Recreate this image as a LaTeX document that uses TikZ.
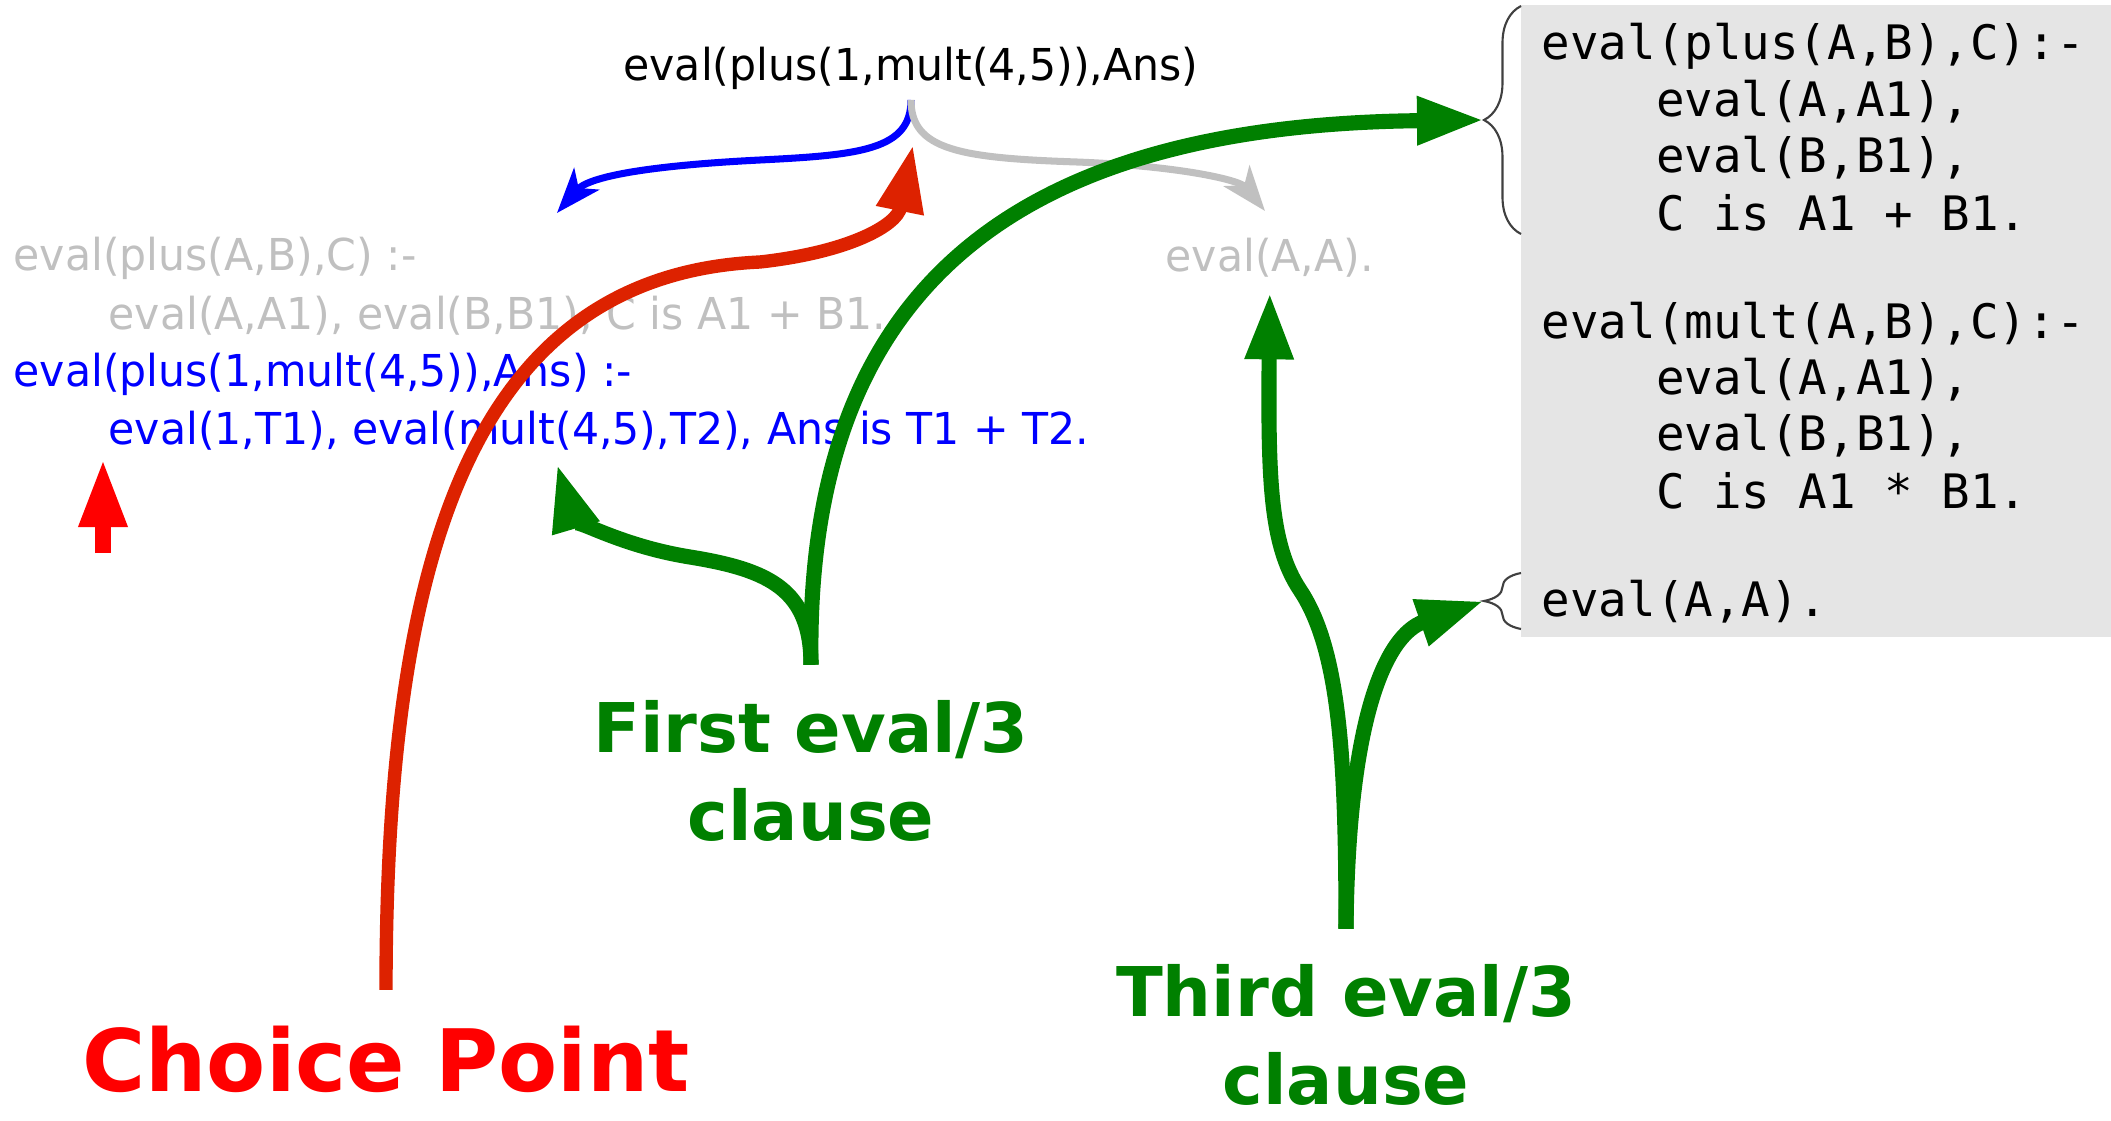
\documentclass[tikz,border=0pt]{standalone}
\usepackage{fontspec}
\setmainfont{DejaVu Sans}
\setmonofont{DejaVu Sans Mono}
\newfontfamily\goalfont[FakeStretch=0.97]{DejaVu Sans}
\usetikzlibrary{arrows.meta,decorations.pathreplacing}

\definecolor{cpred}{RGB}{221,34,0}
\definecolor{clgreen}{RGB}{0,128,0}
\definecolor{dimgray}{RGB}{192,192,192}
\definecolor{boxgray}{RGB}{229,229,229}

\newcommand\codeindent{\phantom{eval}}

\begin{document}
\begin{tikzpicture}
  [
    x=0.01cm, y={(0cm,-0.01cm)},
    goal/.style     = {font=\goalfont\fontsize{12.5}{15}\selectfont, inner sep=0, anchor=west},
    code/.style     = {font=\ttfamily\fontsize{13.5}{16}\selectfont, inner sep=0, anchor=west},
    lbl/.style      = {font=\bfseries\fontsize{19.5}{25}\selectfont, align=center, inner xsep=0, inner ysep=0.35cm},
    thin arrow/.style = {line width=2pt, -{Stealth[length=0.45cm, width=0.33cm, inset=0.12cm]}},
    red arrow/.style  = {cpred, line width=3.8pt, -{Triangle[length=0.67cm, width=0.45cm]}},
    green arrow/.style= {clgreen, line width=4.3pt, -{Triangle[length=0.67cm, width=0.45cm]}},
    clausebrace/.style= {black!75, line width=0.6pt, decorate, decoration={brace, amplitude=0.37cm}},
  ]

\useasboundingbox (0,0) rectangle (2111,1121);

%Program listing on the right
\fill[boxgray] (1521,5) rectangle (2111,637);
\foreach \k/\txt in {0/{eval(plus(A,B),C):-}, 1/{\codeindent eval(A,A1),}, 2/{\codeindent eval(B,B1),},
                     3/{\codeindent C is A1 + B1.}, 5/{eval(mult(A,B),C):-}, 6/{\codeindent eval(A,A1),},
                     7/{\codeindent eval(B,B1),}, 8/{\codeindent C is A1 * B1.}, 10/{eval(A,A).}}
{
\node[code] (c\k) at (1541,{46+55.6*\k}) {\txt};
}

%Braces marking the first and third clause
\draw[clausebrace] (1521,234) -- (1521,6);
\draw[clausebrace] (1521,629) -- (1521,573);
\coordinate (b1) at (1484,120);
\coordinate (b2) at (1484,601);

%Query and the resolvents
\node[goal, anchor=south, inner ysep=0.1cm] (q) at (911,100) {eval(plus(1,mult(4,5)),Ans)};
\node[goal, text=dimgray] (g1) at (13,258) {eval(plus(A,B),C) :-};
\node[goal, text=dimgray] (g2) at (108,316) {eval(A,A1), eval(B,B1), C is A1 + B1.};
\node[goal, text=blue] (h1) at (13,374) {eval(plus(1,mult(4,5)),Ans) :-};
\node[goal, text=blue] (h2) at (108,431) {eval(1,T1), eval(mult(4,5),T2), Ans is T1 + T2.};
\node[goal, text=dimgray, inner ysep=0.14cm] (aa) at (1165,258) {eval(A,A).};

%Labels
\node[lbl, text=clgreen] (fst) at (811,771) {First eval/3\\clause};
\node[lbl, text=clgreen] (thd) at (1346,1035) {Third eval/3\\clause};
\node[lbl, text=red, font=\bfseries\fontsize{24.5}{30}\selectfont] (cp) at (386,1059) {Choice Point};

\coordinate (cptip) at (913,145);
\coordinate (bltip) at (557,213);
\coordinate (grtip) at (1265,211);
\coordinate (fsttip) at (557,464);
\coordinate (mk0) at (103,553);
\coordinate (mk1) at (103,459);

%Branches of the query
\draw[thin arrow, blue] (q.south) .. controls (911,150) and (860,155) .. (760,160)
      .. controls (660,165) and (590,175) .. (bltip);
\draw[thin arrow, dimgray] (q.south) .. controls (911,150) and (960,158) .. (1077,162)
      .. controls (1180,166) and (1240,180) .. (grtip);

%Choice point
\draw[red arrow] (cp.north) .. controls (386,560) and (470,275) .. (760,262)
      .. controls (850,252) and (897,225) .. (cptip);
\draw[red, line width=4.3pt, -{Triangle[length=0.68cm, width=0.45cm]}] (mk0) -- (mk1);

%First clause
\draw[green arrow] (fst.north) .. controls (811,590) and (770,570) .. (690,557)
      .. controls (615,545) and (572,515) .. (fsttip);
\draw[green arrow] (fst.north) .. controls (805,300) and (1000,125) .. (b1);

%Third clause
\draw[green arrow] (thd.north) .. controls (1346,760) and (1340,650) .. (1300,590)
      .. controls (1270,545) and (1268,480) .. (aa.south);
\draw[green arrow] (thd.north) .. controls (1348,720) and (1385,635) .. (b2);

%
\end{tikzpicture}
\end{document}
